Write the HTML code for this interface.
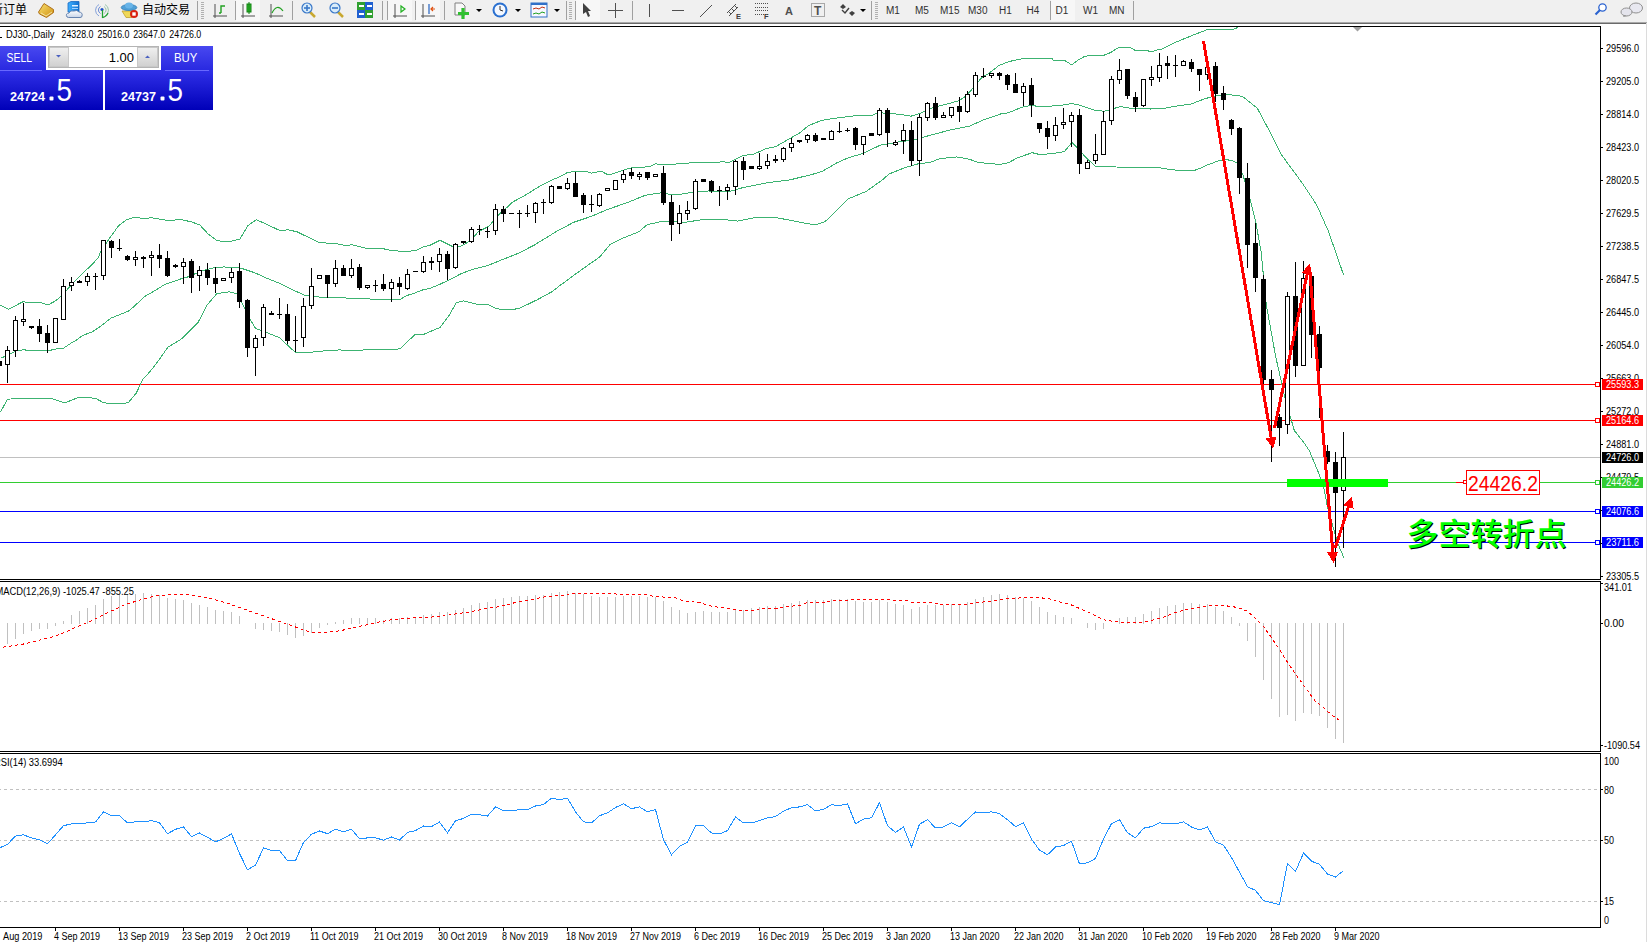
<!DOCTYPE html>
<html><head><meta charset="utf-8"><title>DJ30 Daily</title>
<style>html,body{margin:0;padding:0;background:#fff;}body{width:1647px;height:942px;overflow:hidden;}svg{display:block;}</style>
</head><body>
<svg width="1647" height="942" viewBox="0 0 1647 942">
<rect x="0" y="0" width="1647" height="22" fill="#f0f0f0"/>
<rect x="0" y="22" width="1647" height="1" fill="#a9a9a9"/>
<rect x="0" y="23" width="1647" height="1" fill="#6a6a6a"/>
<rect x="236" y="0" width="24" height="21" fill="#f7f7f7"/>
<rect x="388" y="0" width="24" height="21" fill="#f7f7f7"/>
<rect x="416" y="0" width="24" height="21" fill="#f7f7f7"/>
<rect x="576" y="0" width="24" height="21" fill="#f7f7f7"/>
<rect x="1051" y="0" width="24" height="21" fill="#f7f7f7"/>
<rect x="197" y="1" width="1" height="19" fill="#a0a0a0"/>
<rect x="235" y="1" width="1" height="19" fill="#a0a0a0"/>
<rect x="292" y="1" width="1" height="19" fill="#a0a0a0"/>
<rect x="382" y="1" width="1" height="19" fill="#a0a0a0"/>
<rect x="387" y="1" width="1" height="19" fill="#a0a0a0"/>
<rect x="415" y="1" width="1" height="19" fill="#a0a0a0"/>
<rect x="444" y="1" width="1" height="19" fill="#a0a0a0"/>
<rect x="566" y="1" width="1" height="19" fill="#a0a0a0"/>
<rect x="575" y="1" width="1" height="19" fill="#a0a0a0"/>
<rect x="632" y="1" width="1" height="19" fill="#a0a0a0"/>
<rect x="871" y="1" width="1" height="19" fill="#a0a0a0"/>
<rect x="1050" y="1" width="1" height="19" fill="#a0a0a0"/>
<rect x="1133" y="1" width="1" height="19" fill="#a0a0a0"/>
<rect x="201" y="2" width="3" height="1" fill="#b0b0b0"/>
<rect x="201" y="4" width="3" height="1" fill="#b0b0b0"/>
<rect x="201" y="6" width="3" height="1" fill="#b0b0b0"/>
<rect x="201" y="8" width="3" height="1" fill="#b0b0b0"/>
<rect x="201" y="10" width="3" height="1" fill="#b0b0b0"/>
<rect x="201" y="12" width="3" height="1" fill="#b0b0b0"/>
<rect x="201" y="14" width="3" height="1" fill="#b0b0b0"/>
<rect x="201" y="16" width="3" height="1" fill="#b0b0b0"/>
<rect x="201" y="18" width="3" height="1" fill="#b0b0b0"/>
<rect x="569" y="2" width="3" height="1" fill="#b0b0b0"/>
<rect x="569" y="4" width="3" height="1" fill="#b0b0b0"/>
<rect x="569" y="6" width="3" height="1" fill="#b0b0b0"/>
<rect x="569" y="8" width="3" height="1" fill="#b0b0b0"/>
<rect x="569" y="10" width="3" height="1" fill="#b0b0b0"/>
<rect x="569" y="12" width="3" height="1" fill="#b0b0b0"/>
<rect x="569" y="14" width="3" height="1" fill="#b0b0b0"/>
<rect x="569" y="16" width="3" height="1" fill="#b0b0b0"/>
<rect x="569" y="18" width="3" height="1" fill="#b0b0b0"/>
<rect x="875" y="2" width="3" height="1" fill="#b0b0b0"/>
<rect x="875" y="4" width="3" height="1" fill="#b0b0b0"/>
<rect x="875" y="6" width="3" height="1" fill="#b0b0b0"/>
<rect x="875" y="8" width="3" height="1" fill="#b0b0b0"/>
<rect x="875" y="10" width="3" height="1" fill="#b0b0b0"/>
<rect x="875" y="12" width="3" height="1" fill="#b0b0b0"/>
<rect x="875" y="14" width="3" height="1" fill="#b0b0b0"/>
<rect x="875" y="16" width="3" height="1" fill="#b0b0b0"/>
<rect x="875" y="18" width="3" height="1" fill="#b0b0b0"/>
<text x="-9" y="14" font-size="12" fill="#000" font-family="'Liberation Sans', 'Noto Sans CJK SC', sans-serif">新订单</text>
<text x="142" y="14" font-size="12" fill="#000" font-family="'Liberation Sans', 'Noto Sans CJK SC', sans-serif">自动交易</text>
<defs><linearGradient id="gbook" x1="0" y1="0" x2="1" y2="1"><stop offset="0" stop-color="#f8e070"/><stop offset="1" stop-color="#d09010"/></linearGradient><linearGradient id="gsrv" x1="0" y1="0" x2="1" y2="0"><stop offset="0" stop-color="#40b0ff"/><stop offset="1" stop-color="#1070d0"/></linearGradient><linearGradient id="gcld" x1="0" y1="0" x2="0" y2="1"><stop offset="0" stop-color="#ffffff"/><stop offset="1" stop-color="#c8d4e8"/></linearGradient></defs>
<path d="M38.5,12 L44,3.5 L53.5,9.5 L53.5,12.5 L46.5,17.5 L39.5,14 Z" fill="url(#gbook)" stroke="#a86810" stroke-width="0.9"/>
<path d="M41,13 L46,16 L52,12" fill="none" stroke="#f8f0c0" stroke-width="0.8"/>
<path d="M68,3 L71,1.5 L79,1.5 L79,12 L68,12 Z" fill="url(#gsrv)" stroke="#1868c0" stroke-width="0.8"/>
<rect x="72" y="5" width="6" height="1.5" fill="#e0f0ff"/><rect x="72" y="8" width="6" height="1" fill="#a0d0ff"/>
<path d="M67,17 Q65,13.5 69,13 Q70,10 74,11 Q77,9.5 79,12 Q83,12.5 82,16 Q82,17.5 80,17.5 L68.5,17.5 Z" fill="url(#gcld)" stroke="#5878a8" stroke-width="0.9"/>
<path d="M99,4.5 A6.5,6.5 0 0 0 99,16" fill="none" stroke="#7898d8" stroke-width="0.9"/>
<path d="M100.5,6.5 A4,4 0 0 0 100.5,13.5" fill="none" stroke="#6080d0" stroke-width="0.9"/>
<path d="M105,4.5 A6.5,6.5 0 0 1 105,16" fill="none" stroke="#90c0a0" stroke-width="0.9"/>
<path d="M104,6.5 A4,4 0 0 1 104,13.5" fill="none" stroke="#90c0a0" stroke-width="0.9"/>
<circle cx="102" cy="9.5" r="1.6" fill="#2050c8"/>
<path d="M102.5,10 L102.5,18 M102.5,17.5 Q106,17 108,13" stroke="#20a030" stroke-width="1.3" fill="none"/>
<path d="M122,11 L136,11 L132,17.5 L126,17.5 Z" fill="#f0d858" stroke="#c0a030" stroke-width="0.8"/>
<ellipse cx="129" cy="7.5" rx="7.8" ry="3" fill="#4ea0d8" stroke="#3078b0" stroke-width="0.8"/>
<ellipse cx="129" cy="5.5" rx="4" ry="3" fill="#68b4e8"/>
<circle cx="134" cy="14" r="4" fill="#d82010"/>
<rect x="132.3" y="12.3" width="3.4" height="3.4" fill="#fff"/>
<path d="M215,4 L215,18 M213,16 L227,16" stroke="#505050" stroke-width="1" fill="none"/>
<path d="M221,13 L221,6 L225,6 M219,13 L221,13" stroke="#20a020" stroke-width="1.4" fill="none"/>
<path d="M243,4 L243,18 M241,16 L255,16" stroke="#505050" stroke-width="1" fill="none"/>
<rect x="247" y="4" width="4" height="8" fill="#30c030" stroke="#108010"/>
<path d="M249,2 L249,14" stroke="#108010"/>
<path d="M271,4 L271,18 M269,16 L283,16" stroke="#505050" stroke-width="1" fill="none"/>
<path d="M272,13 Q277,3 283,11" stroke="#20a020" stroke-width="1.2" fill="none"/>
<line x1="310" y1="12" x2="315" y2="17" stroke="#c8a830" stroke-width="2.5"/>
<circle cx="307" cy="8" r="5" fill="#d8ecfa" stroke="#3a78c8" stroke-width="1.2"/>
<line x1="304" y1="8" x2="310" y2="8" stroke="#3a78c8" stroke-width="1.6"/>
<line x1="307" y1="5" x2="307" y2="11" stroke="#3a78c8" stroke-width="1.6"/>
<line x1="338" y1="12" x2="343" y2="17" stroke="#c8a830" stroke-width="2.5"/>
<circle cx="335" cy="8" r="5" fill="#d8ecfa" stroke="#3a78c8" stroke-width="1.2"/>
<line x1="332" y1="8" x2="338" y2="8" stroke="#3a78c8" stroke-width="1.6"/>
<rect x="357" y="2" width="8" height="8" fill="#30a030"/><rect x="365" y="2" width="8" height="8" fill="#2060d0"/>
<rect x="357" y="10" width="8" height="8" fill="#2060d0"/><rect x="365" y="10" width="8" height="8" fill="#30a030"/>
<rect x="359" y="5" width="5" height="2" fill="#fff"/>
<rect x="367" y="5" width="5" height="2" fill="#fff"/>
<rect x="359" y="13" width="5" height="2" fill="#fff"/>
<rect x="367" y="13" width="5" height="2" fill="#fff"/>
<path d="M395,4 L395,18 M393,16 L407,16" stroke="#505050" stroke-width="1" fill="none"/>
<path d="M401,6 L405,9 L401,12 Z" fill="none" stroke="#20b020" stroke-width="1.2"/>
<path d="M423,4 L423,18 M421,16 L435,16" stroke="#505050" stroke-width="1" fill="none"/>
<path d="M429,4 L429,14" stroke="#2060c0" stroke-width="1.2"/><path d="M435,9 L431,9 M433,7 L431,9 L433,11" stroke="#e05010" stroke-width="1.2" fill="none"/>
<path d="M455,3 L462,3 L465,6 L465,15 L455,15 Z" fill="#f8f8f8" stroke="#808080"/>
<path d="M463,8 L463,19 M458,13.5 L469,13.5" stroke="#30c030" stroke-width="3.2"/>
<path d="M476,9 L482,9 L479,12 Z" fill="#000"/>
<path d="M515,9 L521,9 L518,12 Z" fill="#000"/>
<path d="M554,9 L560,9 L557,12 Z" fill="#000"/>
<path d="M860,9 L866,9 L863,12 Z" fill="#000"/>
<circle cx="500" cy="10" r="7.5" fill="#2a70d0"/><circle cx="500" cy="10" r="5.5" fill="#f4f8ff"/>
<path d="M500,6 L500,10 L503,11" stroke="#303030" stroke-width="1" fill="none"/>
<rect x="531" y="3" width="16" height="14" fill="#f8f8ff" stroke="#3070c8"/><rect x="531" y="3" width="16" height="2" fill="#3070c8"/>
<path d="M533,9 L536,8 L539,9 L542,7 L545,8" stroke="#c03010" fill="none"/><path d="M533,14 L536,13 L539,14 L542,12 L545,13" stroke="#20a020" fill="none"/>
<path d="M583,3 L583,14 L586,12 L588,17 L590,16 L588,11 L591,11 Z" fill="#404040"/>
<path d="M615.5,3 L615.5,18 M608,10.5 L623,10.5" stroke="#505050" stroke-width="1"/>
<path d="M649.5,4 L649.5,17" stroke="#505050"/>
<path d="M672,10.5 L684,10.5" stroke="#505050"/>
<path d="M700,17 L712,5" stroke="#505050"/>
<path d="M727,13 L736,4 M729,16 L738,7 M728,11 L731,14 M731,8 L734,11 M734,5 L737,8" stroke="#505050" fill="none"/>
<text x="736" y="18.5" font-size="7.5" font-weight="bold" fill="#404040" font-family="'Liberation Sans', 'Noto Sans CJK SC', sans-serif">E</text>
<path d="M755,3.5 L768,3.5" stroke="#505050" stroke-dasharray="1,1"/>
<path d="M755,7.5 L768,7.5" stroke="#505050" stroke-dasharray="1,1"/>
<path d="M755,10.5 L768,10.5" stroke="#505050" stroke-dasharray="1,1"/>
<path d="M755,14.5 L768,14.5" stroke="#505050" stroke-dasharray="1,1"/>
<text x="764" y="18.5" font-size="7.5" font-weight="bold" fill="#404040" font-family="'Liberation Sans', 'Noto Sans CJK SC', sans-serif">F</text>
<text x="785" y="15" font-size="11" font-weight="bold" fill="#505050" font-family="'Liberation Sans', 'Noto Sans CJK SC', sans-serif">A</text>
<rect x="811.5" y="3.5" width="13" height="13" fill="none" stroke="#606060" stroke-dasharray="1,1"/>
<text x="814" y="15" font-size="12" font-weight="bold" fill="#505050" font-family="'Liberation Sans', 'Noto Sans CJK SC', sans-serif">T</text>
<path d="M840,7 L843,4 L846,7 L843,9 Z M849,13 L852,11 L855,13 L852,16 Z" fill="#404040"/><path d="M842,10 L845,13 L849,8" stroke="#404040" fill="none" stroke-width="1.4"/>
<text x="886.0" y="14" font-size="10" fill="#303030" font-family="'Liberation Sans', 'Noto Sans CJK SC', sans-serif">M1</text>
<text x="915.0" y="14" font-size="10" fill="#303030" font-family="'Liberation Sans', 'Noto Sans CJK SC', sans-serif">M5</text>
<text x="940.0" y="14" font-size="10" fill="#303030" font-family="'Liberation Sans', 'Noto Sans CJK SC', sans-serif">M15</text>
<text x="968.0" y="14" font-size="10" fill="#303030" font-family="'Liberation Sans', 'Noto Sans CJK SC', sans-serif">M30</text>
<text x="999.0" y="14" font-size="10" fill="#303030" font-family="'Liberation Sans', 'Noto Sans CJK SC', sans-serif">H1</text>
<text x="1026.5" y="14" font-size="10" fill="#303030" font-family="'Liberation Sans', 'Noto Sans CJK SC', sans-serif">H4</text>
<text x="1055.5" y="14" font-size="10" fill="#303030" font-family="'Liberation Sans', 'Noto Sans CJK SC', sans-serif">D1</text>
<text x="1083.0" y="14" font-size="10" fill="#303030" font-family="'Liberation Sans', 'Noto Sans CJK SC', sans-serif">W1</text>
<text x="1109.0" y="14" font-size="10" fill="#303030" font-family="'Liberation Sans', 'Noto Sans CJK SC', sans-serif">MN</text>
<circle cx="1602.5" cy="7.5" r="3.7" fill="#fff" stroke="#2a62d0" stroke-width="1.3"/>
<line x1="1600" y1="10" x2="1595.5" y2="14.5" stroke="#2a62d0" stroke-width="2.2"/>
<ellipse cx="1636" cy="8" rx="6.5" ry="5" fill="#e8e8f0" stroke="#909090"/>
<ellipse cx="1626.5" cy="12" rx="5.5" ry="4" fill="#e4e4ec" stroke="#909090"/>
<path d="M1624,15 L1623,17 L1627,16" fill="#909090"/>
<rect x="0" y="24" width="1647" height="918" fill="#fff"/>
<rect x="1646" y="23" width="1" height="919" fill="#dcdcdc"/>
<defs><clipPath id="cm"><rect x="0" y="27" width="1600" height="552"/></clipPath><clipPath id="cd"><rect x="0" y="582" width="1600" height="169"/></clipPath><clipPath id="cr"><rect x="0" y="754" width="1600" height="173"/></clipPath></defs>
<g clip-path="url(#cm)" shape-rendering="crispEdges">
<rect x="0" y="457" width="1600" height="1" fill="#c0c0c0"/>
<rect x="0" y="384" width="1600" height="1" fill="#ff0000"/>
<rect x="0" y="420" width="1600" height="1" fill="#ff0000"/>
<rect x="0" y="482" width="1600" height="1" fill="#32cd32"/>
<rect x="0" y="511" width="1600" height="1" fill="#0000ff"/>
<rect x="0" y="542" width="1600" height="1" fill="#0000ff"/>
<polyline points="0.5,305.0 8.4,309.4 22.6,301.9 41.5,302.8 47.9,305.0 55.7,300.8 62.1,295.2 71.8,284.5 82.0,273.8 92.2,264.5 98.1,257.7 100.5,252.2 107.8,240.7 118.7,225.6 126.0,220.1 135.1,217.0 144.2,218.8 151.5,217.7 167.9,220.6 180.6,219.5 191.6,221.9 199.8,225.0 208.0,233.8 217.1,240.7 228.0,241.9 239.8,239.2 248.0,225.6 256.2,219.7 264.4,223.2 280.8,231.0 288.1,229.7 297.2,231.9 319.1,242.5 337.3,243.8 346.4,245.6 351.9,244.7 364.6,248.0 381.0,248.3 391.9,250.5 404.4,251.5 415.5,250.7 423.7,246.6 429.6,245.5 440.0,240.3 453.4,247.0 460.8,246.3 469.8,241.1 478.7,231.4 489.1,226.2 496.5,216.6 505.4,208.8 512.8,202.0 526.2,194.6 541.1,185.4 550.3,180.8 559.7,176.7 567.3,172.6 572.5,171.8 587.7,172.0 591.2,173.2 598.2,171.8 602.9,172.0 608.1,175.0 614.6,173.2 626.3,169.1 633.3,167.6 649.6,166.8 655.5,163.9 661.3,164.4 667.1,164.4 684.6,163.6 692.8,162.5 696.5,163.0 724.5,161.8 728.0,163.0 743.2,155.4 753.7,154.2 766.6,148.4 775.9,146.6 789.9,138.5 799.3,133.2 808.6,125.6 821.5,120.4 836.6,118.0 848.5,116.6 861.2,115.0 871.4,115.9 877.8,112.7 889.3,113.4 902.0,114.6 910.9,116.2 919.8,113.4 932.6,107.6 945.3,104.5 959.3,100.6 965.7,96.2 973.3,87.9 981.0,78.3 989.9,72.6 998.8,65.6 1008.5,61.8 1011.1,61.1 1021.7,58.8 1040.5,58.9 1052.2,58.9 1052.9,60.0 1063.8,60.0 1071.8,64.9 1078.4,59.8 1084.2,56.7 1091.5,55.0 1104.6,55.0 1110.5,52.6 1119.2,47.1 1129.4,47.1 1135.9,50.9 1148.3,50.9 1151.2,52.0 1157.1,50.0 1160.5,49.6 1173.8,43.0 1191.4,35.8 1206.5,29.9 1232.2,29.9 1238.0,27.3 1245.5,15.5 1255.5,-4.5 1300.5,-59.5 1343.5,-99.5" fill="none" stroke="#3cb371" stroke-width="1"/>
<polyline points="0.5,358.1 7.6,355.5 15.8,351.0 24.2,349.7 28.5,350.7 47.9,350.8 58.2,348.5 63.6,348.1 71.8,342.6 76.3,340.2 82.0,335.8 88.9,333.1 92.2,332.0 100.5,326.4 111.0,318.1 126.8,311.8 129.5,310.5 145.1,296.3 155.2,290.5 164.5,284.6 184.0,277.8 188.8,276.7 195.6,273.5 203.4,270.5 213.1,267.9 222.8,267.0 235.5,267.1 242.3,268.6 254.3,272.6 268.1,278.8 281.9,284.3 295.7,291.2 304.0,295.0 315.0,296.7 328.8,297.8 353.7,298.1 378.5,299.5 399.4,299.7 407.4,295.3 412.5,293.9 422.2,290.1 431.5,287.8 440.0,284.2 449.0,280.1 460.8,273.8 472.7,269.3 487.6,265.6 502.4,259.6 517.3,253.7 533.6,245.5 544.5,238.8 556.2,231.6 573.7,222.3 591.2,216.4 607.6,209.4 626.3,203.0 644.9,195.4 655.5,193.6 661.3,192.8 668.3,194.0 682.3,194.0 694.0,191.9 708.2,191.0 725.7,191.8 731.5,191.0 743.2,187.5 766.6,182.8 789.9,179.9 813.3,174.1 822.6,171.2 836.6,163.0 848.3,157.7 861.2,154.1 880.3,145.2 899.5,141.8 916.0,139.7 924.9,136.7 950.4,129.9 969.5,126.1 982.3,120.4 1001.4,113.7 1008.5,112.8 1021.7,107.2 1032.3,105.3 1039.0,106.8 1053.6,105.9 1064.2,104.9 1072.1,103.5 1080.1,105.3 1093.4,109.9 1104.0,111.2 1110.6,109.6 1119.9,106.6 1133.2,108.6 1150.5,109.0 1162.2,108.6 1177.3,106.0 1191.4,103.9 1204.2,99.0 1212.4,96.5 1222.9,94.6 1230.5,94.8 1242.4,96.3 1257.3,108.2 1269.2,130.5 1281.1,154.3 1301.9,182.6 1316.7,204.9 1328.6,231.7 1343.5,274.8" fill="none" stroke="#3cb371" stroke-width="1"/>
<polyline points="0.5,412.0 7.6,399.1 35.2,398.2 51.0,398.2 64.4,403.0 79.4,397.1 95.2,398.2 103.9,402.9 120.5,403.8 128.4,402.6 136.3,393.1 142.6,379.7 150.5,371.0 158.4,360.7 167.8,347.3 182.0,338.6 197.8,322.9 207.3,304.7 216.8,293.7 229.4,291.8 237.3,293.7 244.6,308.5 250.2,319.5 255.7,328.5 266.7,332.6 279.2,337.5 295.7,352.7 306.8,352.7 323.3,351.0 339.9,349.9 350.9,351.0 364.7,349.9 380.5,349.7 395.1,349.7 400.2,348.5 415.5,334.1 424.2,334.1 440.2,327.4 449.0,315.5 456.3,302.6 463.6,300.9 479.6,304.8 488.3,304.8 497.1,308.9 511.6,309.9 520.4,307.9 537.9,299.4 552.5,291.4 560.5,285.1 581.1,270.0 599.7,257.0 610.0,244.6 622.4,238.4 638.9,231.8 647.2,224.6 663.7,221.1 684.4,222.5 700.9,219.8 725.7,219.8 738.0,221.1 754.5,217.8 777.3,217.8 787.6,219.8 804.1,223.1 815.5,225.0 824.7,221.9 835.1,212.2 847.5,199.2 866.0,191.5 881.6,180.5 889.3,173.9 904.5,167.8 918.6,163.7 930.0,162.4 940.2,158.6 956.8,156.9 969.5,159.2 975.9,161.8 988.6,163.7 1000.5,164.3 1008.5,162.7 1017.7,157.7 1032.3,152.7 1040.3,154.7 1053.6,153.4 1064.2,151.7 1072.1,142.4 1080.1,151.0 1086.7,158.3 1096.0,166.9 1116.2,167.0 1138.8,167.9 1155.8,167.0 1165.1,168.8 1173.2,169.8 1181.3,170.8 1193.2,170.8 1200.8,168.1 1206.8,165.2 1212.7,163.0 1220.4,160.1 1228.0,159.9 1233.1,160.9 1237.4,163.0 1243.1,175.4 1249.5,196.6 1255.8,222.1 1261.1,251.8 1266.2,304.3 1275.5,355.7 1284.9,397.8 1294.3,430.5 1303.6,442.2 1309.5,451.0 1318.5,472.7 1324.0,488.9 1327.5,507.0 1333.0,526.9 1338.4,544.9 1343.8,557.5" fill="none" stroke="#3cb371" stroke-width="1"/>
<rect x="-1" y="358" width="1" height="10" fill="#000"/>
<rect x="-3" y="361" width="5" height="5" fill="#000"/>
<rect x="7" y="346" width="1" height="37" fill="#000"/>
<rect x="5" y="350" width="5" height="15" fill="#000"/>
<rect x="6" y="351" width="3" height="13" fill="#fff"/>
<rect x="15" y="316" width="1" height="41" fill="#000"/>
<rect x="13" y="320" width="5" height="31" fill="#000"/>
<rect x="14" y="321" width="3" height="29" fill="#fff"/>
<rect x="23" y="303" width="1" height="23" fill="#000"/>
<rect x="21" y="319" width="5" height="3" fill="#000"/>
<rect x="22" y="320" width="3" height="1" fill="#fff"/>
<rect x="31" y="326" width="1" height="3" fill="#000"/>
<rect x="29" y="326" width="5" height="2" fill="#000"/>
<rect x="39" y="319" width="1" height="23" fill="#000"/>
<rect x="37" y="326" width="5" height="8" fill="#000"/>
<rect x="47" y="325" width="1" height="28" fill="#000"/>
<rect x="45" y="333" width="5" height="10" fill="#000"/>
<rect x="55" y="318" width="1" height="25" fill="#000"/>
<rect x="53" y="318" width="5" height="25" fill="#000"/>
<rect x="54" y="319" width="3" height="23" fill="#fff"/>
<rect x="63" y="279" width="1" height="41" fill="#000"/>
<rect x="61" y="286" width="5" height="34" fill="#000"/>
<rect x="62" y="287" width="3" height="32" fill="#fff"/>
<rect x="71" y="277" width="1" height="14" fill="#000"/>
<rect x="69" y="282" width="5" height="4" fill="#000"/>
<rect x="70" y="283" width="3" height="2" fill="#fff"/>
<rect x="79" y="280" width="1" height="3" fill="#000"/>
<rect x="77" y="281" width="5" height="2" fill="#000"/>
<rect x="87" y="273" width="1" height="13" fill="#000"/>
<rect x="85" y="276" width="5" height="6" fill="#000"/>
<rect x="86" y="277" width="3" height="4" fill="#fff"/>
<rect x="95" y="273" width="1" height="17" fill="#000"/>
<rect x="93" y="276" width="5" height="1" fill="#000"/>
<rect x="103" y="240" width="1" height="40" fill="#000"/>
<rect x="101" y="240" width="5" height="36" fill="#000"/>
<rect x="102" y="241" width="3" height="34" fill="#fff"/>
<rect x="111" y="240" width="1" height="18" fill="#000"/>
<rect x="109" y="241" width="5" height="7" fill="#000"/>
<rect x="119" y="239" width="1" height="12" fill="#000"/>
<rect x="117" y="248" width="5" height="1" fill="#000"/>
<rect x="127" y="255" width="1" height="6" fill="#000"/>
<rect x="125" y="256" width="5" height="4" fill="#000"/>
<rect x="135" y="251" width="1" height="15" fill="#000"/>
<rect x="133" y="257" width="5" height="3" fill="#000"/>
<rect x="134" y="258" width="3" height="1" fill="#fff"/>
<rect x="143" y="256" width="1" height="12" fill="#000"/>
<rect x="141" y="257" width="5" height="2" fill="#000"/>
<rect x="151" y="251" width="1" height="25" fill="#000"/>
<rect x="149" y="255" width="5" height="3" fill="#000"/>
<rect x="150" y="256" width="3" height="1" fill="#fff"/>
<rect x="159" y="244" width="1" height="24" fill="#000"/>
<rect x="157" y="255" width="5" height="4" fill="#000"/>
<rect x="167" y="251" width="1" height="26" fill="#000"/>
<rect x="165" y="258" width="5" height="18" fill="#000"/>
<rect x="175" y="264" width="1" height="4" fill="#000"/>
<rect x="173" y="265" width="5" height="2" fill="#000"/>
<rect x="183" y="258" width="1" height="26" fill="#000"/>
<rect x="181" y="262" width="5" height="5" fill="#000"/>
<rect x="182" y="263" width="3" height="3" fill="#fff"/>
<rect x="191" y="259" width="1" height="34" fill="#000"/>
<rect x="189" y="261" width="5" height="17" fill="#000"/>
<rect x="199" y="266" width="1" height="25" fill="#000"/>
<rect x="197" y="270" width="5" height="6" fill="#000"/>
<rect x="198" y="271" width="3" height="4" fill="#fff"/>
<rect x="207" y="263" width="1" height="22" fill="#000"/>
<rect x="205" y="270" width="5" height="8" fill="#000"/>
<rect x="215" y="267" width="1" height="26" fill="#000"/>
<rect x="213" y="278" width="5" height="6" fill="#000"/>
<rect x="223" y="278" width="1" height="3" fill="#000"/>
<rect x="221" y="278" width="5" height="3" fill="#000"/>
<rect x="222" y="279" width="3" height="1" fill="#fff"/>
<rect x="231" y="268" width="1" height="15" fill="#000"/>
<rect x="229" y="272" width="5" height="6" fill="#000"/>
<rect x="230" y="273" width="3" height="4" fill="#fff"/>
<rect x="239" y="263" width="1" height="45" fill="#000"/>
<rect x="237" y="271" width="5" height="31" fill="#000"/>
<rect x="247" y="299" width="1" height="58" fill="#000"/>
<rect x="245" y="300" width="5" height="48" fill="#000"/>
<rect x="255" y="335" width="1" height="41" fill="#000"/>
<rect x="253" y="338" width="5" height="10" fill="#000"/>
<rect x="254" y="339" width="3" height="8" fill="#fff"/>
<rect x="263" y="304" width="1" height="42" fill="#000"/>
<rect x="261" y="307" width="5" height="31" fill="#000"/>
<rect x="262" y="308" width="3" height="29" fill="#fff"/>
<rect x="271" y="311" width="1" height="4" fill="#000"/>
<rect x="269" y="313" width="5" height="2" fill="#000"/>
<rect x="279" y="298" width="1" height="21" fill="#000"/>
<rect x="277" y="314" width="5" height="1" fill="#000"/>
<rect x="287" y="304" width="1" height="40" fill="#000"/>
<rect x="285" y="314" width="5" height="27" fill="#000"/>
<rect x="295" y="316" width="1" height="36" fill="#000"/>
<rect x="293" y="340" width="5" height="1" fill="#000"/>
<rect x="303" y="298" width="1" height="49" fill="#000"/>
<rect x="301" y="306" width="5" height="32" fill="#000"/>
<rect x="302" y="307" width="3" height="30" fill="#fff"/>
<rect x="311" y="268" width="1" height="41" fill="#000"/>
<rect x="309" y="286" width="5" height="20" fill="#000"/>
<rect x="310" y="287" width="3" height="18" fill="#fff"/>
<rect x="319" y="275" width="1" height="4" fill="#000"/>
<rect x="317" y="275" width="5" height="4" fill="#000"/>
<rect x="318" y="276" width="3" height="2" fill="#fff"/>
<rect x="327" y="275" width="1" height="23" fill="#000"/>
<rect x="325" y="275" width="5" height="9" fill="#000"/>
<rect x="335" y="260" width="1" height="27" fill="#000"/>
<rect x="333" y="268" width="5" height="16" fill="#000"/>
<rect x="334" y="269" width="3" height="14" fill="#fff"/>
<rect x="343" y="265" width="1" height="11" fill="#000"/>
<rect x="341" y="268" width="5" height="8" fill="#000"/>
<rect x="351" y="259" width="1" height="19" fill="#000"/>
<rect x="349" y="268" width="5" height="8" fill="#000"/>
<rect x="350" y="269" width="3" height="6" fill="#fff"/>
<rect x="359" y="264" width="1" height="26" fill="#000"/>
<rect x="357" y="267" width="5" height="21" fill="#000"/>
<rect x="367" y="285" width="1" height="4" fill="#000"/>
<rect x="365" y="285" width="5" height="3" fill="#000"/>
<rect x="366" y="286" width="3" height="1" fill="#fff"/>
<rect x="375" y="280" width="1" height="12" fill="#000"/>
<rect x="373" y="285" width="5" height="1" fill="#000"/>
<rect x="383" y="274" width="1" height="17" fill="#000"/>
<rect x="381" y="284" width="5" height="5" fill="#000"/>
<rect x="391" y="279" width="1" height="23" fill="#000"/>
<rect x="389" y="282" width="5" height="7" fill="#000"/>
<rect x="390" y="283" width="3" height="5" fill="#fff"/>
<rect x="399" y="277" width="1" height="18" fill="#000"/>
<rect x="397" y="283" width="5" height="4" fill="#000"/>
<rect x="407" y="269" width="1" height="21" fill="#000"/>
<rect x="405" y="274" width="5" height="15" fill="#000"/>
<rect x="406" y="275" width="3" height="13" fill="#fff"/>
<rect x="415" y="271" width="1" height="1" fill="#000"/>
<rect x="413" y="271" width="5" height="1" fill="#000"/>
<rect x="423" y="256" width="1" height="17" fill="#000"/>
<rect x="421" y="262" width="5" height="10" fill="#000"/>
<rect x="422" y="263" width="3" height="8" fill="#fff"/>
<rect x="431" y="257" width="1" height="13" fill="#000"/>
<rect x="429" y="261" width="5" height="2" fill="#000"/>
<rect x="439" y="248" width="1" height="24" fill="#000"/>
<rect x="437" y="254" width="5" height="8" fill="#000"/>
<rect x="438" y="255" width="3" height="6" fill="#fff"/>
<rect x="447" y="251" width="1" height="29" fill="#000"/>
<rect x="445" y="254" width="5" height="15" fill="#000"/>
<rect x="455" y="243" width="1" height="26" fill="#000"/>
<rect x="453" y="244" width="5" height="24" fill="#000"/>
<rect x="454" y="245" width="3" height="22" fill="#fff"/>
<rect x="463" y="241" width="1" height="3" fill="#000"/>
<rect x="461" y="241" width="5" height="2" fill="#000"/>
<rect x="471" y="227" width="1" height="16" fill="#000"/>
<rect x="469" y="229" width="5" height="13" fill="#000"/>
<rect x="470" y="230" width="3" height="11" fill="#fff"/>
<rect x="479" y="225" width="1" height="10" fill="#000"/>
<rect x="477" y="229" width="5" height="1" fill="#000"/>
<rect x="487" y="227" width="1" height="11" fill="#000"/>
<rect x="485" y="231" width="5" height="1" fill="#000"/>
<rect x="495" y="204" width="1" height="31" fill="#000"/>
<rect x="493" y="209" width="5" height="22" fill="#000"/>
<rect x="494" y="210" width="3" height="20" fill="#fff"/>
<rect x="503" y="206" width="1" height="16" fill="#000"/>
<rect x="501" y="209" width="5" height="5" fill="#000"/>
<rect x="511" y="213" width="1" height="1" fill="#000"/>
<rect x="509" y="213" width="5" height="1" fill="#000"/>
<rect x="519" y="210" width="1" height="18" fill="#000"/>
<rect x="517" y="213" width="5" height="1" fill="#000"/>
<rect x="527" y="205" width="1" height="12" fill="#000"/>
<rect x="525" y="213" width="5" height="1" fill="#000"/>
<rect x="535" y="202" width="1" height="21" fill="#000"/>
<rect x="533" y="203" width="5" height="10" fill="#000"/>
<rect x="534" y="204" width="3" height="8" fill="#fff"/>
<rect x="543" y="199" width="1" height="15" fill="#000"/>
<rect x="541" y="202" width="5" height="1" fill="#000"/>
<rect x="551" y="185" width="1" height="19" fill="#000"/>
<rect x="549" y="186" width="5" height="17" fill="#000"/>
<rect x="550" y="187" width="3" height="15" fill="#fff"/>
<rect x="559" y="186" width="1" height="3" fill="#000"/>
<rect x="557" y="186" width="5" height="3" fill="#000"/>
<rect x="567" y="178" width="1" height="12" fill="#000"/>
<rect x="565" y="183" width="5" height="6" fill="#000"/>
<rect x="566" y="184" width="3" height="4" fill="#fff"/>
<rect x="575" y="172" width="1" height="25" fill="#000"/>
<rect x="573" y="183" width="5" height="14" fill="#000"/>
<rect x="583" y="193" width="1" height="20" fill="#000"/>
<rect x="581" y="195" width="5" height="10" fill="#000"/>
<rect x="591" y="195" width="1" height="17" fill="#000"/>
<rect x="589" y="204" width="5" height="1" fill="#000"/>
<rect x="599" y="193" width="1" height="14" fill="#000"/>
<rect x="597" y="194" width="5" height="12" fill="#000"/>
<rect x="598" y="195" width="3" height="10" fill="#fff"/>
<rect x="607" y="188" width="1" height="3" fill="#000"/>
<rect x="605" y="188" width="5" height="3" fill="#000"/>
<rect x="606" y="189" width="3" height="1" fill="#fff"/>
<rect x="615" y="180" width="1" height="10" fill="#000"/>
<rect x="613" y="180" width="5" height="10" fill="#000"/>
<rect x="614" y="181" width="3" height="8" fill="#fff"/>
<rect x="623" y="170" width="1" height="13" fill="#000"/>
<rect x="621" y="174" width="5" height="6" fill="#000"/>
<rect x="622" y="175" width="3" height="4" fill="#fff"/>
<rect x="631" y="168" width="1" height="11" fill="#000"/>
<rect x="629" y="172" width="5" height="4" fill="#000"/>
<rect x="639" y="172" width="1" height="8" fill="#000"/>
<rect x="637" y="174" width="5" height="3" fill="#000"/>
<rect x="638" y="175" width="3" height="1" fill="#fff"/>
<rect x="647" y="172" width="1" height="8" fill="#000"/>
<rect x="645" y="172" width="5" height="6" fill="#000"/>
<rect x="655" y="174" width="1" height="3" fill="#000"/>
<rect x="653" y="174" width="5" height="3" fill="#000"/>
<rect x="654" y="175" width="3" height="1" fill="#fff"/>
<rect x="663" y="166" width="1" height="39" fill="#000"/>
<rect x="661" y="173" width="5" height="30" fill="#000"/>
<rect x="671" y="195" width="1" height="46" fill="#000"/>
<rect x="669" y="202" width="5" height="23" fill="#000"/>
<rect x="679" y="205" width="1" height="29" fill="#000"/>
<rect x="677" y="213" width="5" height="11" fill="#000"/>
<rect x="678" y="214" width="3" height="9" fill="#fff"/>
<rect x="687" y="201" width="1" height="19" fill="#000"/>
<rect x="685" y="210" width="5" height="4" fill="#000"/>
<rect x="686" y="211" width="3" height="2" fill="#fff"/>
<rect x="695" y="179" width="1" height="31" fill="#000"/>
<rect x="693" y="181" width="5" height="28" fill="#000"/>
<rect x="694" y="182" width="3" height="26" fill="#fff"/>
<rect x="703" y="179" width="1" height="3" fill="#000"/>
<rect x="701" y="179" width="5" height="3" fill="#000"/>
<rect x="711" y="180" width="1" height="13" fill="#000"/>
<rect x="709" y="181" width="5" height="10" fill="#000"/>
<rect x="719" y="186" width="1" height="20" fill="#000"/>
<rect x="717" y="190" width="5" height="1" fill="#000"/>
<rect x="727" y="184" width="1" height="16" fill="#000"/>
<rect x="725" y="187" width="5" height="4" fill="#000"/>
<rect x="726" y="188" width="3" height="2" fill="#fff"/>
<rect x="735" y="160" width="1" height="35" fill="#000"/>
<rect x="733" y="161" width="5" height="26" fill="#000"/>
<rect x="734" y="162" width="3" height="24" fill="#fff"/>
<rect x="743" y="157" width="1" height="23" fill="#000"/>
<rect x="741" y="161" width="5" height="9" fill="#000"/>
<rect x="751" y="166" width="1" height="3" fill="#000"/>
<rect x="749" y="166" width="5" height="3" fill="#000"/>
<rect x="759" y="153" width="1" height="17" fill="#000"/>
<rect x="757" y="166" width="5" height="3" fill="#000"/>
<rect x="758" y="167" width="3" height="1" fill="#fff"/>
<rect x="767" y="154" width="1" height="15" fill="#000"/>
<rect x="765" y="161" width="5" height="5" fill="#000"/>
<rect x="766" y="162" width="3" height="3" fill="#fff"/>
<rect x="775" y="155" width="1" height="8" fill="#000"/>
<rect x="773" y="159" width="5" height="2" fill="#000"/>
<rect x="783" y="147" width="1" height="15" fill="#000"/>
<rect x="781" y="148" width="5" height="12" fill="#000"/>
<rect x="782" y="149" width="3" height="10" fill="#fff"/>
<rect x="791" y="138" width="1" height="14" fill="#000"/>
<rect x="789" y="143" width="5" height="5" fill="#000"/>
<rect x="790" y="144" width="3" height="3" fill="#fff"/>
<rect x="799" y="140" width="1" height="3" fill="#000"/>
<rect x="797" y="140" width="5" height="2" fill="#000"/>
<rect x="807" y="134" width="1" height="9" fill="#000"/>
<rect x="805" y="135" width="5" height="5" fill="#000"/>
<rect x="806" y="136" width="3" height="3" fill="#fff"/>
<rect x="815" y="133" width="1" height="9" fill="#000"/>
<rect x="813" y="135" width="5" height="6" fill="#000"/>
<rect x="823" y="138" width="1" height="2" fill="#000"/>
<rect x="821" y="138" width="5" height="2" fill="#000"/>
<rect x="831" y="130" width="1" height="10" fill="#000"/>
<rect x="829" y="131" width="5" height="9" fill="#000"/>
<rect x="830" y="132" width="3" height="7" fill="#fff"/>
<rect x="839" y="122" width="1" height="11" fill="#000"/>
<rect x="837" y="131" width="5" height="1" fill="#000"/>
<rect x="847" y="128" width="1" height="4" fill="#000"/>
<rect x="845" y="130" width="5" height="1" fill="#000"/>
<rect x="855" y="127" width="1" height="23" fill="#000"/>
<rect x="853" y="128" width="5" height="17" fill="#000"/>
<rect x="863" y="136" width="1" height="19" fill="#000"/>
<rect x="861" y="136" width="5" height="9" fill="#000"/>
<rect x="862" y="137" width="3" height="7" fill="#fff"/>
<rect x="871" y="133" width="1" height="3" fill="#000"/>
<rect x="869" y="133" width="5" height="3" fill="#000"/>
<rect x="879" y="108" width="1" height="28" fill="#000"/>
<rect x="877" y="110" width="5" height="25" fill="#000"/>
<rect x="878" y="111" width="3" height="23" fill="#fff"/>
<rect x="887" y="108" width="1" height="39" fill="#000"/>
<rect x="885" y="110" width="5" height="23" fill="#000"/>
<rect x="895" y="140" width="1" height="6" fill="#000"/>
<rect x="893" y="142" width="5" height="3" fill="#000"/>
<rect x="894" y="143" width="3" height="1" fill="#fff"/>
<rect x="903" y="124" width="1" height="30" fill="#000"/>
<rect x="901" y="130" width="5" height="11" fill="#000"/>
<rect x="902" y="131" width="3" height="9" fill="#fff"/>
<rect x="911" y="121" width="1" height="45" fill="#000"/>
<rect x="909" y="130" width="5" height="31" fill="#000"/>
<rect x="919" y="114" width="1" height="62" fill="#000"/>
<rect x="917" y="117" width="5" height="44" fill="#000"/>
<rect x="918" y="118" width="3" height="42" fill="#fff"/>
<rect x="927" y="102" width="1" height="19" fill="#000"/>
<rect x="925" y="103" width="5" height="15" fill="#000"/>
<rect x="926" y="104" width="3" height="13" fill="#fff"/>
<rect x="935" y="97" width="1" height="23" fill="#000"/>
<rect x="933" y="103" width="5" height="15" fill="#000"/>
<rect x="943" y="112" width="1" height="6" fill="#000"/>
<rect x="941" y="115" width="5" height="3" fill="#000"/>
<rect x="942" y="116" width="3" height="1" fill="#fff"/>
<rect x="951" y="107" width="1" height="11" fill="#000"/>
<rect x="949" y="107" width="5" height="9" fill="#000"/>
<rect x="950" y="108" width="3" height="7" fill="#fff"/>
<rect x="959" y="97" width="1" height="25" fill="#000"/>
<rect x="957" y="106" width="5" height="6" fill="#000"/>
<rect x="967" y="91" width="1" height="22" fill="#000"/>
<rect x="965" y="94" width="5" height="18" fill="#000"/>
<rect x="966" y="95" width="3" height="16" fill="#fff"/>
<rect x="975" y="72" width="1" height="25" fill="#000"/>
<rect x="973" y="75" width="5" height="20" fill="#000"/>
<rect x="974" y="76" width="3" height="18" fill="#fff"/>
<rect x="983" y="68" width="1" height="10" fill="#000"/>
<rect x="981" y="76" width="5" height="1" fill="#000"/>
<rect x="991" y="73" width="1" height="5" fill="#000"/>
<rect x="989" y="73" width="5" height="3" fill="#000"/>
<rect x="990" y="74" width="3" height="1" fill="#fff"/>
<rect x="999" y="72" width="1" height="8" fill="#000"/>
<rect x="997" y="73" width="5" height="3" fill="#000"/>
<rect x="1007" y="74" width="1" height="16" fill="#000"/>
<rect x="1005" y="75" width="5" height="10" fill="#000"/>
<rect x="1015" y="73" width="1" height="20" fill="#000"/>
<rect x="1013" y="84" width="5" height="9" fill="#000"/>
<rect x="1023" y="83" width="1" height="23" fill="#000"/>
<rect x="1021" y="86" width="5" height="7" fill="#000"/>
<rect x="1022" y="87" width="3" height="5" fill="#fff"/>
<rect x="1031" y="78" width="1" height="39" fill="#000"/>
<rect x="1029" y="85" width="5" height="20" fill="#000"/>
<rect x="1039" y="123" width="1" height="10" fill="#000"/>
<rect x="1037" y="123" width="5" height="6" fill="#000"/>
<rect x="1047" y="121" width="1" height="28" fill="#000"/>
<rect x="1045" y="128" width="5" height="9" fill="#000"/>
<rect x="1055" y="117" width="1" height="24" fill="#000"/>
<rect x="1053" y="125" width="5" height="11" fill="#000"/>
<rect x="1054" y="126" width="3" height="9" fill="#fff"/>
<rect x="1063" y="108" width="1" height="21" fill="#000"/>
<rect x="1061" y="122" width="5" height="3" fill="#000"/>
<rect x="1062" y="123" width="3" height="1" fill="#fff"/>
<rect x="1071" y="112" width="1" height="35" fill="#000"/>
<rect x="1069" y="115" width="5" height="7" fill="#000"/>
<rect x="1070" y="116" width="3" height="5" fill="#fff"/>
<rect x="1079" y="109" width="1" height="65" fill="#000"/>
<rect x="1077" y="115" width="5" height="49" fill="#000"/>
<rect x="1087" y="160" width="1" height="9" fill="#000"/>
<rect x="1085" y="162" width="5" height="7" fill="#000"/>
<rect x="1086" y="163" width="3" height="5" fill="#fff"/>
<rect x="1095" y="134" width="1" height="30" fill="#000"/>
<rect x="1093" y="154" width="5" height="7" fill="#000"/>
<rect x="1094" y="155" width="3" height="5" fill="#fff"/>
<rect x="1103" y="111" width="1" height="44" fill="#000"/>
<rect x="1101" y="121" width="5" height="34" fill="#000"/>
<rect x="1102" y="122" width="3" height="32" fill="#fff"/>
<rect x="1111" y="76" width="1" height="49" fill="#000"/>
<rect x="1109" y="79" width="5" height="42" fill="#000"/>
<rect x="1110" y="80" width="3" height="40" fill="#fff"/>
<rect x="1119" y="59" width="1" height="25" fill="#000"/>
<rect x="1117" y="70" width="5" height="10" fill="#000"/>
<rect x="1118" y="71" width="3" height="8" fill="#fff"/>
<rect x="1127" y="69" width="1" height="30" fill="#000"/>
<rect x="1125" y="69" width="5" height="27" fill="#000"/>
<rect x="1135" y="92" width="1" height="20" fill="#000"/>
<rect x="1133" y="97" width="5" height="10" fill="#000"/>
<rect x="1143" y="79" width="1" height="28" fill="#000"/>
<rect x="1141" y="79" width="5" height="27" fill="#000"/>
<rect x="1142" y="80" width="3" height="25" fill="#fff"/>
<rect x="1151" y="66" width="1" height="20" fill="#000"/>
<rect x="1149" y="77" width="5" height="3" fill="#000"/>
<rect x="1150" y="78" width="3" height="1" fill="#fff"/>
<rect x="1159" y="53" width="1" height="29" fill="#000"/>
<rect x="1157" y="65" width="5" height="13" fill="#000"/>
<rect x="1158" y="66" width="3" height="11" fill="#fff"/>
<rect x="1167" y="56" width="1" height="23" fill="#000"/>
<rect x="1165" y="63" width="5" height="3" fill="#000"/>
<rect x="1175" y="55" width="1" height="22" fill="#000"/>
<rect x="1173" y="65" width="5" height="1" fill="#000"/>
<rect x="1183" y="60" width="1" height="6" fill="#000"/>
<rect x="1181" y="61" width="5" height="5" fill="#000"/>
<rect x="1182" y="62" width="3" height="3" fill="#fff"/>
<rect x="1191" y="59" width="1" height="13" fill="#000"/>
<rect x="1189" y="62" width="5" height="7" fill="#000"/>
<rect x="1199" y="69" width="1" height="22" fill="#000"/>
<rect x="1197" y="69" width="5" height="6" fill="#000"/>
<rect x="1207" y="67" width="1" height="13" fill="#000"/>
<rect x="1205" y="67" width="5" height="8" fill="#000"/>
<rect x="1206" y="68" width="3" height="6" fill="#fff"/>
<rect x="1215" y="62" width="1" height="40" fill="#000"/>
<rect x="1213" y="66" width="5" height="28" fill="#000"/>
<rect x="1223" y="86" width="1" height="24" fill="#000"/>
<rect x="1221" y="93" width="5" height="7" fill="#000"/>
<rect x="1231" y="119" width="1" height="16" fill="#000"/>
<rect x="1229" y="120" width="5" height="9" fill="#000"/>
<rect x="1239" y="127" width="1" height="67" fill="#000"/>
<rect x="1237" y="128" width="5" height="50" fill="#000"/>
<rect x="1247" y="163" width="1" height="105" fill="#000"/>
<rect x="1245" y="178" width="5" height="67" fill="#000"/>
<rect x="1255" y="223" width="1" height="69" fill="#000"/>
<rect x="1253" y="243" width="5" height="35" fill="#000"/>
<rect x="1263" y="275" width="1" height="126" fill="#000"/>
<rect x="1261" y="279" width="5" height="101" fill="#000"/>
<rect x="1271" y="370" width="1" height="92" fill="#000"/>
<rect x="1269" y="379" width="5" height="11" fill="#000"/>
<rect x="1279" y="414" width="1" height="32" fill="#000"/>
<rect x="1277" y="417" width="5" height="11" fill="#000"/>
<rect x="1287" y="292" width="1" height="142" fill="#000"/>
<rect x="1285" y="296" width="5" height="129" fill="#000"/>
<rect x="1286" y="297" width="3" height="127" fill="#fff"/>
<rect x="1295" y="262" width="1" height="115" fill="#000"/>
<rect x="1293" y="296" width="5" height="70" fill="#000"/>
<rect x="1303" y="261" width="1" height="105" fill="#000"/>
<rect x="1301" y="278" width="5" height="88" fill="#000"/>
<rect x="1302" y="279" width="3" height="86" fill="#fff"/>
<rect x="1311" y="272" width="1" height="86" fill="#000"/>
<rect x="1309" y="276" width="5" height="59" fill="#000"/>
<rect x="1319" y="326" width="1" height="92" fill="#000"/>
<rect x="1317" y="334" width="5" height="34" fill="#000"/>
<rect x="1327" y="445" width="1" height="19" fill="#000"/>
<rect x="1325" y="451" width="5" height="11" fill="#000"/>
<rect x="1335" y="452" width="1" height="115" fill="#000"/>
<rect x="1333" y="462" width="5" height="31" fill="#000"/>
<rect x="1343" y="432" width="1" height="116" fill="#000"/>
<rect x="1341" y="457" width="5" height="34" fill="#000"/>
<rect x="1342" y="458" width="3" height="32" fill="#fff"/>
</g>
<g clip-path="url(#cd)" shape-rendering="crispEdges">
<rect x="7" y="623" width="1" height="21" fill="#c0c0c0"/>
<rect x="15" y="623" width="1" height="16" fill="#c0c0c0"/>
<rect x="23" y="623" width="1" height="11" fill="#c0c0c0"/>
<rect x="31" y="623" width="1" height="8" fill="#c0c0c0"/>
<rect x="39" y="623" width="1" height="6" fill="#c0c0c0"/>
<rect x="47" y="623" width="1" height="6" fill="#c0c0c0"/>
<rect x="55" y="623" width="1" height="3" fill="#c0c0c0"/>
<rect x="63" y="621" width="1" height="3" fill="#c0c0c0"/>
<rect x="71" y="615" width="1" height="9" fill="#c0c0c0"/>
<rect x="79" y="611" width="1" height="13" fill="#c0c0c0"/>
<rect x="87" y="608" width="1" height="16" fill="#c0c0c0"/>
<rect x="95" y="605" width="1" height="19" fill="#c0c0c0"/>
<rect x="103" y="599" width="1" height="25" fill="#c0c0c0"/>
<rect x="111" y="596" width="1" height="28" fill="#c0c0c0"/>
<rect x="119" y="594" width="1" height="30" fill="#c0c0c0"/>
<rect x="127" y="594" width="1" height="30" fill="#c0c0c0"/>
<rect x="135" y="594" width="1" height="30" fill="#c0c0c0"/>
<rect x="143" y="593" width="1" height="31" fill="#c0c0c0"/>
<rect x="151" y="594" width="1" height="30" fill="#c0c0c0"/>
<rect x="159" y="595" width="1" height="29" fill="#c0c0c0"/>
<rect x="167" y="598" width="1" height="26" fill="#c0c0c0"/>
<rect x="175" y="599" width="1" height="25" fill="#c0c0c0"/>
<rect x="183" y="600" width="1" height="24" fill="#c0c0c0"/>
<rect x="191" y="603" width="1" height="21" fill="#c0c0c0"/>
<rect x="199" y="605" width="1" height="19" fill="#c0c0c0"/>
<rect x="207" y="607" width="1" height="17" fill="#c0c0c0"/>
<rect x="215" y="610" width="1" height="14" fill="#c0c0c0"/>
<rect x="223" y="611" width="1" height="13" fill="#c0c0c0"/>
<rect x="231" y="612" width="1" height="12" fill="#c0c0c0"/>
<rect x="239" y="616" width="1" height="8" fill="#c0c0c0"/>
<rect x="255" y="623" width="1" height="6" fill="#c0c0c0"/>
<rect x="263" y="623" width="1" height="7" fill="#c0c0c0"/>
<rect x="271" y="623" width="1" height="8" fill="#c0c0c0"/>
<rect x="279" y="623" width="1" height="9" fill="#c0c0c0"/>
<rect x="287" y="623" width="1" height="12" fill="#c0c0c0"/>
<rect x="295" y="623" width="1" height="15" fill="#c0c0c0"/>
<rect x="303" y="623" width="1" height="13" fill="#c0c0c0"/>
<rect x="311" y="623" width="1" height="10" fill="#c0c0c0"/>
<rect x="319" y="623" width="1" height="5" fill="#c0c0c0"/>
<rect x="327" y="623" width="1" height="2" fill="#c0c0c0"/>
<rect x="335" y="622" width="1" height="2" fill="#c0c0c0"/>
<rect x="343" y="620" width="1" height="4" fill="#c0c0c0"/>
<rect x="351" y="618" width="1" height="6" fill="#c0c0c0"/>
<rect x="359" y="618" width="1" height="6" fill="#c0c0c0"/>
<rect x="367" y="618" width="1" height="6" fill="#c0c0c0"/>
<rect x="375" y="618" width="1" height="6" fill="#c0c0c0"/>
<rect x="383" y="620" width="1" height="4" fill="#c0c0c0"/>
<rect x="391" y="618" width="1" height="6" fill="#c0c0c0"/>
<rect x="399" y="618" width="1" height="6" fill="#c0c0c0"/>
<rect x="407" y="617" width="1" height="7" fill="#c0c0c0"/>
<rect x="415" y="617" width="1" height="7" fill="#c0c0c0"/>
<rect x="423" y="615" width="1" height="9" fill="#c0c0c0"/>
<rect x="431" y="614" width="1" height="10" fill="#c0c0c0"/>
<rect x="439" y="612" width="1" height="12" fill="#c0c0c0"/>
<rect x="447" y="612" width="1" height="12" fill="#c0c0c0"/>
<rect x="455" y="610" width="1" height="14" fill="#c0c0c0"/>
<rect x="463" y="608" width="1" height="16" fill="#c0c0c0"/>
<rect x="471" y="605" width="1" height="19" fill="#c0c0c0"/>
<rect x="479" y="603" width="1" height="21" fill="#c0c0c0"/>
<rect x="487" y="602" width="1" height="22" fill="#c0c0c0"/>
<rect x="495" y="599" width="1" height="25" fill="#c0c0c0"/>
<rect x="503" y="598" width="1" height="26" fill="#c0c0c0"/>
<rect x="511" y="597" width="1" height="27" fill="#c0c0c0"/>
<rect x="519" y="596" width="1" height="28" fill="#c0c0c0"/>
<rect x="527" y="596" width="1" height="28" fill="#c0c0c0"/>
<rect x="535" y="595" width="1" height="29" fill="#c0c0c0"/>
<rect x="543" y="595" width="1" height="29" fill="#c0c0c0"/>
<rect x="551" y="593" width="1" height="31" fill="#c0c0c0"/>
<rect x="559" y="592" width="1" height="32" fill="#c0c0c0"/>
<rect x="567" y="591" width="1" height="33" fill="#c0c0c0"/>
<rect x="575" y="593" width="1" height="31" fill="#c0c0c0"/>
<rect x="583" y="594" width="1" height="30" fill="#c0c0c0"/>
<rect x="591" y="596" width="1" height="28" fill="#c0c0c0"/>
<rect x="599" y="597" width="1" height="27" fill="#c0c0c0"/>
<rect x="607" y="597" width="1" height="27" fill="#c0c0c0"/>
<rect x="615" y="597" width="1" height="27" fill="#c0c0c0"/>
<rect x="623" y="596" width="1" height="28" fill="#c0c0c0"/>
<rect x="631" y="596" width="1" height="28" fill="#c0c0c0"/>
<rect x="639" y="596" width="1" height="28" fill="#c0c0c0"/>
<rect x="647" y="597" width="1" height="27" fill="#c0c0c0"/>
<rect x="655" y="597" width="1" height="27" fill="#c0c0c0"/>
<rect x="663" y="601" width="1" height="23" fill="#c0c0c0"/>
<rect x="671" y="607" width="1" height="17" fill="#c0c0c0"/>
<rect x="679" y="610" width="1" height="14" fill="#c0c0c0"/>
<rect x="687" y="613" width="1" height="11" fill="#c0c0c0"/>
<rect x="695" y="612" width="1" height="12" fill="#c0c0c0"/>
<rect x="703" y="611" width="1" height="13" fill="#c0c0c0"/>
<rect x="711" y="612" width="1" height="12" fill="#c0c0c0"/>
<rect x="719" y="612" width="1" height="12" fill="#c0c0c0"/>
<rect x="727" y="612" width="1" height="12" fill="#c0c0c0"/>
<rect x="735" y="610" width="1" height="14" fill="#c0c0c0"/>
<rect x="743" y="610" width="1" height="14" fill="#c0c0c0"/>
<rect x="751" y="608" width="1" height="16" fill="#c0c0c0"/>
<rect x="759" y="607" width="1" height="17" fill="#c0c0c0"/>
<rect x="767" y="606" width="1" height="18" fill="#c0c0c0"/>
<rect x="775" y="606" width="1" height="18" fill="#c0c0c0"/>
<rect x="783" y="604" width="1" height="20" fill="#c0c0c0"/>
<rect x="791" y="603" width="1" height="21" fill="#c0c0c0"/>
<rect x="799" y="601" width="1" height="23" fill="#c0c0c0"/>
<rect x="807" y="600" width="1" height="24" fill="#c0c0c0"/>
<rect x="815" y="600" width="1" height="24" fill="#c0c0c0"/>
<rect x="823" y="600" width="1" height="24" fill="#c0c0c0"/>
<rect x="831" y="599" width="1" height="25" fill="#c0c0c0"/>
<rect x="839" y="599" width="1" height="25" fill="#c0c0c0"/>
<rect x="847" y="599" width="1" height="25" fill="#c0c0c0"/>
<rect x="855" y="601" width="1" height="23" fill="#c0c0c0"/>
<rect x="863" y="602" width="1" height="22" fill="#c0c0c0"/>
<rect x="871" y="602" width="1" height="22" fill="#c0c0c0"/>
<rect x="879" y="600" width="1" height="24" fill="#c0c0c0"/>
<rect x="887" y="602" width="1" height="22" fill="#c0c0c0"/>
<rect x="895" y="604" width="1" height="20" fill="#c0c0c0"/>
<rect x="903" y="605" width="1" height="19" fill="#c0c0c0"/>
<rect x="911" y="609" width="1" height="15" fill="#c0c0c0"/>
<rect x="919" y="607" width="1" height="17" fill="#c0c0c0"/>
<rect x="927" y="605" width="1" height="19" fill="#c0c0c0"/>
<rect x="935" y="605" width="1" height="19" fill="#c0c0c0"/>
<rect x="943" y="605" width="1" height="19" fill="#c0c0c0"/>
<rect x="951" y="604" width="1" height="20" fill="#c0c0c0"/>
<rect x="959" y="604" width="1" height="20" fill="#c0c0c0"/>
<rect x="967" y="602" width="1" height="22" fill="#c0c0c0"/>
<rect x="975" y="599" width="1" height="25" fill="#c0c0c0"/>
<rect x="983" y="597" width="1" height="27" fill="#c0c0c0"/>
<rect x="991" y="595" width="1" height="29" fill="#c0c0c0"/>
<rect x="999" y="594" width="1" height="30" fill="#c0c0c0"/>
<rect x="1007" y="595" width="1" height="29" fill="#c0c0c0"/>
<rect x="1015" y="597" width="1" height="27" fill="#c0c0c0"/>
<rect x="1023" y="598" width="1" height="26" fill="#c0c0c0"/>
<rect x="1031" y="601" width="1" height="23" fill="#c0c0c0"/>
<rect x="1039" y="607" width="1" height="17" fill="#c0c0c0"/>
<rect x="1047" y="612" width="1" height="12" fill="#c0c0c0"/>
<rect x="1055" y="615" width="1" height="9" fill="#c0c0c0"/>
<rect x="1063" y="617" width="1" height="7" fill="#c0c0c0"/>
<rect x="1071" y="618" width="1" height="6" fill="#c0c0c0"/>
<rect x="1087" y="623" width="1" height="5" fill="#c0c0c0"/>
<rect x="1095" y="623" width="1" height="7" fill="#c0c0c0"/>
<rect x="1103" y="623" width="1" height="6" fill="#c0c0c0"/>
<rect x="1119" y="618" width="1" height="6" fill="#c0c0c0"/>
<rect x="1127" y="617" width="1" height="7" fill="#c0c0c0"/>
<rect x="1135" y="617" width="1" height="7" fill="#c0c0c0"/>
<rect x="1143" y="614" width="1" height="10" fill="#c0c0c0"/>
<rect x="1151" y="611" width="1" height="13" fill="#c0c0c0"/>
<rect x="1159" y="608" width="1" height="16" fill="#c0c0c0"/>
<rect x="1167" y="606" width="1" height="18" fill="#c0c0c0"/>
<rect x="1175" y="605" width="1" height="19" fill="#c0c0c0"/>
<rect x="1183" y="603" width="1" height="21" fill="#c0c0c0"/>
<rect x="1191" y="603" width="1" height="21" fill="#c0c0c0"/>
<rect x="1199" y="604" width="1" height="20" fill="#c0c0c0"/>
<rect x="1207" y="604" width="1" height="20" fill="#c0c0c0"/>
<rect x="1215" y="607" width="1" height="17" fill="#c0c0c0"/>
<rect x="1223" y="611" width="1" height="13" fill="#c0c0c0"/>
<rect x="1231" y="617" width="1" height="7" fill="#c0c0c0"/>
<rect x="1239" y="623" width="1" height="3" fill="#c0c0c0"/>
<rect x="1247" y="623" width="1" height="18" fill="#c0c0c0"/>
<rect x="1255" y="623" width="1" height="34" fill="#c0c0c0"/>
<rect x="1263" y="623" width="1" height="57" fill="#c0c0c0"/>
<rect x="1271" y="623" width="1" height="76" fill="#c0c0c0"/>
<rect x="1279" y="623" width="1" height="94" fill="#c0c0c0"/>
<rect x="1287" y="623" width="1" height="92" fill="#c0c0c0"/>
<rect x="1295" y="623" width="1" height="98" fill="#c0c0c0"/>
<rect x="1303" y="623" width="1" height="90" fill="#c0c0c0"/>
<rect x="1311" y="623" width="1" height="91" fill="#c0c0c0"/>
<rect x="1319" y="623" width="1" height="93" fill="#c0c0c0"/>
<rect x="1327" y="623" width="1" height="105" fill="#c0c0c0"/>
<rect x="1335" y="623" width="1" height="116" fill="#c0c0c0"/>
<rect x="1343" y="623" width="1" height="120" fill="#c0c0c0"/>
<polyline points="3.2,647.2 24.2,643.9 36.9,640.8 53.3,636.7 64.3,632.6 77.0,626.8 91.6,620.8 109.8,611.7 124.4,605.0 137.1,600.8 155.3,595.7 173.5,594.4 191.8,594.9 210.0,598.4 228.2,603.5 246.4,609.9 264.6,616.3 282.8,622.6 291.5,625.4 299.6,628.7 310.5,632.0 326.9,632.4 341.5,630.5 352.4,627.8 365.2,625.1 377.9,622.3 392.5,619.6 408.9,618.2 427.1,617.4 441.7,616.3 454.4,614.1 472.6,611.4 485.4,608.7 500.0,606.5 518.2,601.8 532.8,599.2 545.5,596.8 563.7,595.0 572.8,593.2 611.5,593.2 616.9,594.1 647.9,595.0 653.4,596.3 677.0,598.1 682.5,600.5 702.5,603.2 708.0,605.6 726.2,608.3 739.0,610.1 753.5,610.1 759.0,609.0 777.2,608.1 780.9,607.2 802.7,605.0 806.4,602.7 826.4,602.0 830.0,601.0 851.9,599.9 855.5,599.2 888.7,599.2 892.4,600.5 906.9,600.5 910.6,602.3 925.1,602.7 937.9,603.2 941.5,604.5 968.9,604.5 972.5,603.2 988.9,601.4 1003.5,599.2 1021.7,597.8 1039.9,597.4 1045.4,598.7 1052.6,599.2 1056.3,601.0 1070.9,604.7 1080.0,608.7 1089.1,612.3 1098.2,617.4 1105.5,620.2 1118.2,622.0 1143.7,622.3 1152.8,620.0 1161.9,617.8 1167.5,615.7 1174.5,612.7 1186.8,609.5 1200.8,607.4 1209.6,605.7 1225.3,605.7 1234.1,606.9 1241.1,608.7 1248.1,611.6 1255.1,618.3 1263.9,627.0 1272.6,639.3 1281.4,652.4 1288.4,663.8 1297.1,676.1 1305.9,688.4 1314.7,700.6 1323.4,707.6 1332.2,715.5 1341.5,721.5" fill="none" stroke="#ff0000" stroke-width="1" stroke-dasharray="3,3"/>
</g>
<g clip-path="url(#cr)" shape-rendering="crispEdges">
<line x1="0" y1="789.5" x2="1600" y2="789.5" stroke="#c0c0c0" stroke-width="1" stroke-dasharray="3,3" stroke-dashoffset="2"/>
<line x1="0" y1="840.5" x2="1600" y2="840.5" stroke="#c0c0c0" stroke-width="1" stroke-dasharray="3,3" stroke-dashoffset="2"/>
<line x1="0" y1="901.5" x2="1600" y2="901.5" stroke="#c0c0c0" stroke-width="1" stroke-dasharray="3,3" stroke-dashoffset="2"/>
<polyline points="-0.5,847.9 7.5,844.3 15.5,836.1 23.5,834.8 31.5,837.9 39.5,839.7 47.5,843.9 55.5,834.8 63.5,825.7 71.5,823.9 79.5,823.9 87.5,822.8 95.5,822.0 103.5,811.8 111.5,815.7 119.5,815.7 127.5,822.9 135.5,821.8 143.5,821.8 151.5,820.6 159.5,822.8 167.5,833.7 175.5,829.3 183.5,826.9 191.5,836.6 199.5,833.0 207.5,837.3 215.5,841.9 223.5,838.4 231.5,833.9 239.5,853.4 247.5,869.8 255.5,865.2 263.5,847.9 271.5,850.6 279.5,850.6 287.5,860.6 295.5,860.6 303.5,842.4 311.5,834.2 319.5,831.0 327.5,833.7 335.5,829.1 343.5,831.9 351.5,829.1 359.5,838.8 367.5,837.9 375.5,837.9 383.5,840.1 391.5,837.0 399.5,840.1 407.5,832.4 415.5,830.6 423.5,826.0 431.5,826.6 439.5,822.0 447.5,832.8 455.5,820.9 463.5,818.4 471.5,814.2 479.5,814.7 487.5,816.0 495.5,806.9 503.5,810.6 511.5,810.9 519.5,809.6 527.5,809.6 535.5,806.0 543.5,804.5 551.5,798.2 559.5,799.6 567.5,798.2 575.5,811.8 583.5,821.8 591.5,822.9 599.5,815.7 607.5,812.9 615.5,807.5 623.5,803.8 631.5,808.7 639.5,806.9 647.5,811.8 655.5,809.6 663.5,839.7 671.5,854.8 679.5,846.4 687.5,842.4 695.5,825.7 703.5,825.7 711.5,833.0 719.5,833.9 727.5,830.6 735.5,816.9 743.5,822.9 751.5,822.9 759.5,820.6 767.5,817.8 775.5,816.6 783.5,811.1 791.5,807.8 799.5,806.9 807.5,804.7 815.5,810.9 823.5,809.3 831.5,804.7 839.5,805.6 847.5,803.8 855.5,823.7 863.5,819.1 871.5,817.8 879.5,802.7 887.5,825.7 895.5,832.4 903.5,826.9 911.5,847.0 919.5,824.2 927.5,819.7 935.5,827.9 943.5,826.9 951.5,822.8 959.5,826.9 967.5,819.3 975.5,812.0 983.5,812.9 991.5,811.8 999.5,813.7 1007.5,819.7 1015.5,826.6 1023.5,822.9 1031.5,839.2 1039.5,850.1 1047.5,854.8 1055.5,847.0 1063.5,845.5 1071.5,841.2 1079.5,863.9 1087.5,862.8 1095.5,858.5 1103.5,838.8 1111.5,823.7 1119.5,819.7 1127.5,832.8 1135.5,837.9 1143.5,828.2 1151.5,826.6 1159.5,822.8 1167.5,823.8 1175.5,823.8 1183.5,821.8 1191.5,827.0 1199.5,829.9 1207.5,827.0 1215.5,841.8 1223.5,845.2 1231.5,857.6 1239.5,872.1 1247.5,886.7 1255.5,890.4 1263.5,900.7 1271.5,902.5 1279.5,904.7 1287.5,863.4 1295.5,871.5 1303.5,853.0 1311.5,861.2 1319.5,864.3 1327.5,874.0 1335.5,877.0 1343.5,870.7" fill="none" stroke="#1e90ff" stroke-width="1"/>
</g>
<g clip-path="url(#cm)" shape-rendering="crispEdges">
<rect x="1287" y="479" width="101" height="8" fill="#00ff00"/>
<line x1="1203.5" y1="41.0" x2="1271.3" y2="438.6" stroke="#ff0000" stroke-width="3"/><path d="M1265.7,438.6 L1273.0,448.5 L1276.6,436.7 Z" fill="#ff0000"/>
<line x1="1274.5" y1="428.0" x2="1307.3" y2="273.3" stroke="#ff0000" stroke-width="3"/><path d="M1312.5,275.4 L1309.4,263.5 L1301.7,273.1 Z" fill="#ff0000"/>
<line x1="1309.5" y1="267.0" x2="1332.8" y2="553.0" stroke="#ff0000" stroke-width="3"/><path d="M1327.2,552.5 L1333.6,563.0 L1338.2,551.6 Z" fill="#ff0000"/>
<line x1="1335.3" y1="548.0" x2="1348.7" y2="506.0" stroke="#ff0000" stroke-width="3"/><path d="M1353.7,508.7 L1351.8,496.5 L1343.2,505.3 Z" fill="#ff0000"/>
</g>
<rect x="1456" y="482" width="7" height="1" fill="#ff0000"/>
<rect x="1463.5" y="480.5" width="3" height="3" fill="#fff" stroke="#ff0000"/>
<rect x="1466.5" y="470.5" width="73" height="24" fill="#fff" stroke="#ff0000"/>
<text x="1468" y="491" font-size="22.5" fill="#ff0000" font-family="'Liberation Sans', 'Noto Sans CJK SC', sans-serif" textLength="70" lengthAdjust="spacingAndGlyphs">24426.2</text>
<text x="1407.5" y="545.5" font-size="31" font-weight="500" fill="#000" font-family="'Noto Sans CJK SC', sans-serif" textLength="160" lengthAdjust="spacingAndGlyphs">多空转折点</text>
<text x="1406.5" y="544.5" font-size="31" font-weight="500" fill="#00ff00" font-family="'Noto Sans CJK SC', sans-serif" textLength="160" lengthAdjust="spacingAndGlyphs">多空转折点</text>
<g shape-rendering="crispEdges" fill="#000">
<rect x="0" y="26" width="1601" height="1"/>
<rect x="1600" y="26" width="1" height="554"/>
<rect x="0" y="579" width="1601" height="1"/>
<rect x="0" y="581" width="1601" height="1"/>
<rect x="1600" y="581" width="1" height="171"/>
<rect x="0" y="751" width="1601" height="1"/>
<rect x="0" y="753" width="1601" height="1"/>
<rect x="1600" y="753" width="1" height="175"/>
<rect x="0" y="927" width="1601" height="1"/>
<rect x="1601" y="48" width="2" height="1"/>
<rect x="1601" y="81" width="2" height="1"/>
<rect x="1601" y="114" width="2" height="1"/>
<rect x="1601" y="147" width="2" height="1"/>
<rect x="1601" y="180" width="2" height="1"/>
<rect x="1601" y="213" width="2" height="1"/>
<rect x="1601" y="246" width="2" height="1"/>
<rect x="1601" y="279" width="2" height="1"/>
<rect x="1601" y="312" width="2" height="1"/>
<rect x="1601" y="345" width="2" height="1"/>
<rect x="1601" y="378" width="2" height="1"/>
<rect x="1601" y="411" width="2" height="1"/>
<rect x="1601" y="444" width="2" height="1"/>
<rect x="1601" y="477" width="2" height="1"/>
<rect x="1601" y="510" width="2" height="1"/>
<rect x="1601" y="543" width="2" height="1"/>
<rect x="1601" y="576" width="2" height="1"/>
<rect x="1601" y="583" width="2" height="1"/>
<rect x="1601" y="623" width="2" height="1"/>
<rect x="1601" y="745" width="2" height="1"/>
<rect x="1601" y="789" width="2" height="1"/>
<rect x="1601" y="840" width="2" height="1"/>
<rect x="1601" y="901" width="2" height="1"/>
<rect x="55" y="928" width="1" height="3"/>
<rect x="119" y="928" width="1" height="3"/>
<rect x="183" y="928" width="1" height="3"/>
<rect x="247" y="928" width="1" height="3"/>
<rect x="311" y="928" width="1" height="3"/>
<rect x="375" y="928" width="1" height="3"/>
<rect x="439" y="928" width="1" height="3"/>
<rect x="503" y="928" width="1" height="3"/>
<rect x="567" y="928" width="1" height="3"/>
<rect x="631" y="928" width="1" height="3"/>
<rect x="695" y="928" width="1" height="3"/>
<rect x="759" y="928" width="1" height="3"/>
<rect x="823" y="928" width="1" height="3"/>
<rect x="887" y="928" width="1" height="3"/>
<rect x="951" y="928" width="1" height="3"/>
<rect x="1015" y="928" width="1" height="3"/>
<rect x="1079" y="928" width="1" height="3"/>
<rect x="1143" y="928" width="1" height="3"/>
<rect x="1207" y="928" width="1" height="3"/>
<rect x="1271" y="928" width="1" height="3"/>
<rect x="1335" y="928" width="1" height="3"/>
</g>
<path d="M1353,27 L1362,27 L1357.5,31.5 Z" fill="#a0a0a0"/>
<text x="1606" y="51.6" font-family="'Liberation Sans', 'Noto Sans CJK SC', sans-serif" font-size="10" fill="#000" textLength="33" lengthAdjust="spacingAndGlyphs">29596.0</text>
<text x="1606" y="84.6" font-family="'Liberation Sans', 'Noto Sans CJK SC', sans-serif" font-size="10" fill="#000" textLength="33" lengthAdjust="spacingAndGlyphs">29205.0</text>
<text x="1606" y="117.6" font-family="'Liberation Sans', 'Noto Sans CJK SC', sans-serif" font-size="10" fill="#000" textLength="33" lengthAdjust="spacingAndGlyphs">28814.0</text>
<text x="1606" y="150.6" font-family="'Liberation Sans', 'Noto Sans CJK SC', sans-serif" font-size="10" fill="#000" textLength="33" lengthAdjust="spacingAndGlyphs">28423.0</text>
<text x="1606" y="183.6" font-family="'Liberation Sans', 'Noto Sans CJK SC', sans-serif" font-size="10" fill="#000" textLength="33" lengthAdjust="spacingAndGlyphs">28020.5</text>
<text x="1606" y="216.6" font-family="'Liberation Sans', 'Noto Sans CJK SC', sans-serif" font-size="10" fill="#000" textLength="33" lengthAdjust="spacingAndGlyphs">27629.5</text>
<text x="1606" y="249.6" font-family="'Liberation Sans', 'Noto Sans CJK SC', sans-serif" font-size="10" fill="#000" textLength="33" lengthAdjust="spacingAndGlyphs">27238.5</text>
<text x="1606" y="282.6" font-family="'Liberation Sans', 'Noto Sans CJK SC', sans-serif" font-size="10" fill="#000" textLength="33" lengthAdjust="spacingAndGlyphs">26847.5</text>
<text x="1606" y="315.6" font-family="'Liberation Sans', 'Noto Sans CJK SC', sans-serif" font-size="10" fill="#000" textLength="33" lengthAdjust="spacingAndGlyphs">26445.0</text>
<text x="1606" y="348.6" font-family="'Liberation Sans', 'Noto Sans CJK SC', sans-serif" font-size="10" fill="#000" textLength="33" lengthAdjust="spacingAndGlyphs">26054.0</text>
<text x="1606" y="381.6" font-family="'Liberation Sans', 'Noto Sans CJK SC', sans-serif" font-size="10" fill="#000" textLength="33" lengthAdjust="spacingAndGlyphs">25663.0</text>
<text x="1606" y="414.6" font-family="'Liberation Sans', 'Noto Sans CJK SC', sans-serif" font-size="10" fill="#000" textLength="33" lengthAdjust="spacingAndGlyphs">25272.0</text>
<text x="1606" y="447.6" font-family="'Liberation Sans', 'Noto Sans CJK SC', sans-serif" font-size="10" fill="#000" textLength="33" lengthAdjust="spacingAndGlyphs">24881.0</text>
<text x="1606" y="480.6" font-family="'Liberation Sans', 'Noto Sans CJK SC', sans-serif" font-size="10" fill="#000" textLength="33" lengthAdjust="spacingAndGlyphs">24479.5</text>
<text x="1606" y="513.6" font-family="'Liberation Sans', 'Noto Sans CJK SC', sans-serif" font-size="10" fill="#000" textLength="33" lengthAdjust="spacingAndGlyphs">24088.5</text>
<text x="1606" y="546.6" font-family="'Liberation Sans', 'Noto Sans CJK SC', sans-serif" font-size="10" fill="#000" textLength="33" lengthAdjust="spacingAndGlyphs">23697.0</text>
<text x="1606" y="579.6" font-family="'Liberation Sans', 'Noto Sans CJK SC', sans-serif" font-size="10" fill="#000" textLength="33" lengthAdjust="spacingAndGlyphs">23305.5</text>
<rect x="1602" y="379" width="41" height="11" fill="#ff0000"/>
<text x="1606" y="387.6" font-family="'Liberation Sans', 'Noto Sans CJK SC', sans-serif" font-size="10" fill="#fff" textLength="33" lengthAdjust="spacingAndGlyphs">25593.3</text>
<rect x="1595.5" y="382.5" width="4" height="4" fill="#fff" stroke="#ff0000"/>
<rect x="1602" y="415" width="41" height="11" fill="#ff0000"/>
<text x="1606" y="423.6" font-family="'Liberation Sans', 'Noto Sans CJK SC', sans-serif" font-size="10" fill="#fff" textLength="33" lengthAdjust="spacingAndGlyphs">25164.6</text>
<rect x="1595.5" y="418.5" width="4" height="4" fill="#fff" stroke="#ff0000"/>
<rect x="1602" y="452" width="41" height="11" fill="#000000"/>
<text x="1606" y="460.6" font-family="'Liberation Sans', 'Noto Sans CJK SC', sans-serif" font-size="10" fill="#fff" textLength="33" lengthAdjust="spacingAndGlyphs">24726.0</text>
<rect x="1602" y="477" width="41" height="11" fill="#32cd32"/>
<text x="1606" y="485.6" font-family="'Liberation Sans', 'Noto Sans CJK SC', sans-serif" font-size="10" fill="#fff" textLength="33" lengthAdjust="spacingAndGlyphs">24426.2</text>
<rect x="1595.5" y="480.5" width="4" height="4" fill="#fff" stroke="#32cd32"/>
<rect x="1602" y="506" width="41" height="11" fill="#0000ff"/>
<text x="1606" y="514.6" font-family="'Liberation Sans', 'Noto Sans CJK SC', sans-serif" font-size="10" fill="#fff" textLength="33" lengthAdjust="spacingAndGlyphs">24076.6</text>
<rect x="1595.5" y="509.5" width="4" height="4" fill="#fff" stroke="#0000ff"/>
<rect x="1602" y="537" width="41" height="11" fill="#0000ff"/>
<text x="1606" y="545.6" font-family="'Liberation Sans', 'Noto Sans CJK SC', sans-serif" font-size="10" fill="#fff" textLength="33" lengthAdjust="spacingAndGlyphs">23711.6</text>
<rect x="1595.5" y="540.5" width="4" height="4" fill="#fff" stroke="#0000ff"/>
<text x="1604" y="591" font-family="'Liberation Sans', 'Noto Sans CJK SC', sans-serif" font-size="10" fill="#000" textLength="28" lengthAdjust="spacingAndGlyphs">341.01</text>
<text x="1604" y="627" font-family="'Liberation Sans', 'Noto Sans CJK SC', sans-serif" font-size="10" fill="#000" textLength="20" lengthAdjust="spacingAndGlyphs">0.00</text>
<text x="1604" y="748.5" font-family="'Liberation Sans', 'Noto Sans CJK SC', sans-serif" font-size="10" fill="#000" textLength="36" lengthAdjust="spacingAndGlyphs">-1090.54</text>
<text x="1604" y="764.5" font-family="'Liberation Sans', 'Noto Sans CJK SC', sans-serif" font-size="10" fill="#000" textLength="15" lengthAdjust="spacingAndGlyphs">100</text>
<text x="1604" y="793.5" font-family="'Liberation Sans', 'Noto Sans CJK SC', sans-serif" font-size="10" fill="#000" textLength="10" lengthAdjust="spacingAndGlyphs">80</text>
<text x="1604" y="844.0" font-family="'Liberation Sans', 'Noto Sans CJK SC', sans-serif" font-size="10" fill="#000" textLength="10" lengthAdjust="spacingAndGlyphs">50</text>
<text x="1604" y="905.0" font-family="'Liberation Sans', 'Noto Sans CJK SC', sans-serif" font-size="10" fill="#000" textLength="10" lengthAdjust="spacingAndGlyphs">15</text>
<text x="1604" y="924.0" font-family="'Liberation Sans', 'Noto Sans CJK SC', sans-serif" font-size="10" fill="#000" textLength="5" lengthAdjust="spacingAndGlyphs">0</text>
<text x="6" y="38" font-family="'Liberation Sans', 'Noto Sans CJK SC', sans-serif" font-size="10" fill="#000" textLength="48.4" lengthAdjust="spacingAndGlyphs">DJ30-,Daily</text>
<text x="61.5" y="38" font-family="'Liberation Sans', 'Noto Sans CJK SC', sans-serif" font-size="10" fill="#000" textLength="32" lengthAdjust="spacingAndGlyphs">24328.0</text>
<text x="97.5" y="38" font-family="'Liberation Sans', 'Noto Sans CJK SC', sans-serif" font-size="10" fill="#000" textLength="32" lengthAdjust="spacingAndGlyphs">25016.0</text>
<text x="133.2" y="38" font-family="'Liberation Sans', 'Noto Sans CJK SC', sans-serif" font-size="10" fill="#000" textLength="32" lengthAdjust="spacingAndGlyphs">23647.0</text>
<text x="169.3" y="38" font-family="'Liberation Sans', 'Noto Sans CJK SC', sans-serif" font-size="10" fill="#000" textLength="32" lengthAdjust="spacingAndGlyphs">24726.0</text>
<rect x="0" y="37" width="2" height="1" fill="#000"/>
<text x="-4.5" y="594.5" font-family="'Liberation Sans', 'Noto Sans CJK SC', sans-serif" font-size="10" fill="#000" textLength="138.5" lengthAdjust="spacingAndGlyphs">MACD(12,26,9) -1025.47 -855.25</text>
<text x="-6" y="766" font-family="'Liberation Sans', 'Noto Sans CJK SC', sans-serif" font-size="10" fill="#000" textLength="68.7" lengthAdjust="spacingAndGlyphs">RSI(14) 33.6994</text>
<text x="3" y="940" font-family="'Liberation Sans', 'Noto Sans CJK SC', sans-serif" font-size="10" fill="#000" textLength="39.4" lengthAdjust="spacingAndGlyphs">Aug 2019</text>
<text x="54" y="940" font-family="'Liberation Sans', 'Noto Sans CJK SC', sans-serif" font-size="10" fill="#000" textLength="46.1" lengthAdjust="spacingAndGlyphs">4 Sep 2019</text>
<text x="118" y="940" font-family="'Liberation Sans', 'Noto Sans CJK SC', sans-serif" font-size="10" fill="#000" textLength="51.1" lengthAdjust="spacingAndGlyphs">13 Sep 2019</text>
<text x="182" y="940" font-family="'Liberation Sans', 'Noto Sans CJK SC', sans-serif" font-size="10" fill="#000" textLength="51.1" lengthAdjust="spacingAndGlyphs">23 Sep 2019</text>
<text x="246" y="940" font-family="'Liberation Sans', 'Noto Sans CJK SC', sans-serif" font-size="10" fill="#000" textLength="44.0" lengthAdjust="spacingAndGlyphs">2 Oct 2019</text>
<text x="310" y="940" font-family="'Liberation Sans', 'Noto Sans CJK SC', sans-serif" font-size="10" fill="#000" textLength="48.4" lengthAdjust="spacingAndGlyphs">11 Oct 2019</text>
<text x="374" y="940" font-family="'Liberation Sans', 'Noto Sans CJK SC', sans-serif" font-size="10" fill="#000" textLength="49.1" lengthAdjust="spacingAndGlyphs">21 Oct 2019</text>
<text x="438" y="940" font-family="'Liberation Sans', 'Noto Sans CJK SC', sans-serif" font-size="10" fill="#000" textLength="49.1" lengthAdjust="spacingAndGlyphs">30 Oct 2019</text>
<text x="502" y="940" font-family="'Liberation Sans', 'Noto Sans CJK SC', sans-serif" font-size="10" fill="#000" textLength="46.0" lengthAdjust="spacingAndGlyphs">8 Nov 2019</text>
<text x="566" y="940" font-family="'Liberation Sans', 'Noto Sans CJK SC', sans-serif" font-size="10" fill="#000" textLength="51.0" lengthAdjust="spacingAndGlyphs">18 Nov 2019</text>
<text x="630" y="940" font-family="'Liberation Sans', 'Noto Sans CJK SC', sans-serif" font-size="10" fill="#000" textLength="51.0" lengthAdjust="spacingAndGlyphs">27 Nov 2019</text>
<text x="694" y="940" font-family="'Liberation Sans', 'Noto Sans CJK SC', sans-serif" font-size="10" fill="#000" textLength="46.0" lengthAdjust="spacingAndGlyphs">6 Dec 2019</text>
<text x="758" y="940" font-family="'Liberation Sans', 'Noto Sans CJK SC', sans-serif" font-size="10" fill="#000" textLength="51.0" lengthAdjust="spacingAndGlyphs">16 Dec 2019</text>
<text x="822" y="940" font-family="'Liberation Sans', 'Noto Sans CJK SC', sans-serif" font-size="10" fill="#000" textLength="51.0" lengthAdjust="spacingAndGlyphs">25 Dec 2019</text>
<text x="886" y="940" font-family="'Liberation Sans', 'Noto Sans CJK SC', sans-serif" font-size="10" fill="#000" textLength="44.6" lengthAdjust="spacingAndGlyphs">3 Jan 2020</text>
<text x="950" y="940" font-family="'Liberation Sans', 'Noto Sans CJK SC', sans-serif" font-size="10" fill="#000" textLength="49.6" lengthAdjust="spacingAndGlyphs">13 Jan 2020</text>
<text x="1014" y="940" font-family="'Liberation Sans', 'Noto Sans CJK SC', sans-serif" font-size="10" fill="#000" textLength="49.6" lengthAdjust="spacingAndGlyphs">22 Jan 2020</text>
<text x="1078" y="940" font-family="'Liberation Sans', 'Noto Sans CJK SC', sans-serif" font-size="10" fill="#000" textLength="49.6" lengthAdjust="spacingAndGlyphs">31 Jan 2020</text>
<text x="1142" y="940" font-family="'Liberation Sans', 'Noto Sans CJK SC', sans-serif" font-size="10" fill="#000" textLength="50.6" lengthAdjust="spacingAndGlyphs">10 Feb 2020</text>
<text x="1206" y="940" font-family="'Liberation Sans', 'Noto Sans CJK SC', sans-serif" font-size="10" fill="#000" textLength="50.6" lengthAdjust="spacingAndGlyphs">19 Feb 2020</text>
<text x="1270" y="940" font-family="'Liberation Sans', 'Noto Sans CJK SC', sans-serif" font-size="10" fill="#000" textLength="50.6" lengthAdjust="spacingAndGlyphs">28 Feb 2020</text>
<text x="1334" y="940" font-family="'Liberation Sans', 'Noto Sans CJK SC', sans-serif" font-size="10" fill="#000" textLength="45.5" lengthAdjust="spacingAndGlyphs">9 Mar 2020</text>
<defs><linearGradient id="bg1" x1="0" y1="0" x2="0" y2="1"><stop offset="0" stop-color="#4848f0"/><stop offset="1" stop-color="#2828e0"/></linearGradient><linearGradient id="bg2" x1="0" y1="0" x2="0" y2="1"><stop offset="0" stop-color="#3030e8"/><stop offset="1" stop-color="#0000b8"/></linearGradient><linearGradient id="bt" x1="0" y1="0" x2="0" y2="1"><stop offset="0" stop-color="#f0f0f0"/><stop offset="1" stop-color="#d0d0d0"/></linearGradient></defs>
<rect x="0" y="46" width="46" height="25" fill="url(#bg1)"/>
<rect x="161" y="46" width="52" height="25" fill="url(#bg1)"/>
<rect x="0" y="70" width="103" height="40" fill="url(#bg2)"/>
<rect x="105" y="70" width="108" height="40" fill="url(#bg2)"/>
<rect x="0" y="70" width="42" height="1" fill="#6868ff"/>
<rect x="165" y="70" width="44" height="1" fill="#6868ff"/>
<rect x="48.5" y="46.5" width="110" height="21" fill="#fff" stroke="#b4b4b4"/>
<rect x="49.5" y="47.5" width="19" height="19" fill="url(#bt)" stroke="#c8c8c8"/>
<rect x="137.5" y="47.5" width="20" height="19" fill="url(#bt)" stroke="#c8c8c8"/>
<path d="M56,55 L61,55 L58.5,57.5 Z" fill="#4a60c0"/>
<path d="M145,58 L150,58 L147.5,55.5 Z" fill="#4a60c0"/>
<text x="134" y="61.5" font-size="13" text-anchor="end" fill="#000" font-family="'Liberation Sans', 'Noto Sans CJK SC', sans-serif">1.00</text>
<text x="6.5" y="62" font-size="12" fill="#fff" font-family="'Liberation Sans', 'Noto Sans CJK SC', sans-serif" textLength="25.5" lengthAdjust="spacingAndGlyphs">SELL</text>
<text x="174" y="62" font-size="12" fill="#fff" font-family="'Liberation Sans', 'Noto Sans CJK SC', sans-serif" textLength="23.5" lengthAdjust="spacingAndGlyphs">BUY</text>
<text x="10" y="101" font-size="12.5" font-weight="bold" fill="#fff" font-family="'Liberation Sans', 'Noto Sans CJK SC', sans-serif" textLength="35" lengthAdjust="spacingAndGlyphs">24724</text>
<text x="121" y="101" font-size="12.5" font-weight="bold" fill="#fff" font-family="'Liberation Sans', 'Noto Sans CJK SC', sans-serif" textLength="35" lengthAdjust="spacingAndGlyphs">24737</text>
<rect x="49.5" y="96.5" width="4" height="4" rx="1" fill="#fff"/>
<text x="56.5" y="101" font-size="32" fill="#fff" font-family="'Liberation Sans', 'Noto Sans CJK SC', sans-serif" textLength="15.5" lengthAdjust="spacingAndGlyphs">5</text>
<rect x="160.5" y="96.5" width="4" height="4" rx="1" fill="#fff"/>
<text x="167.5" y="101" font-size="32" fill="#fff" font-family="'Liberation Sans', 'Noto Sans CJK SC', sans-serif" textLength="15.5" lengthAdjust="spacingAndGlyphs">5</text>
</svg>
</body></html>
